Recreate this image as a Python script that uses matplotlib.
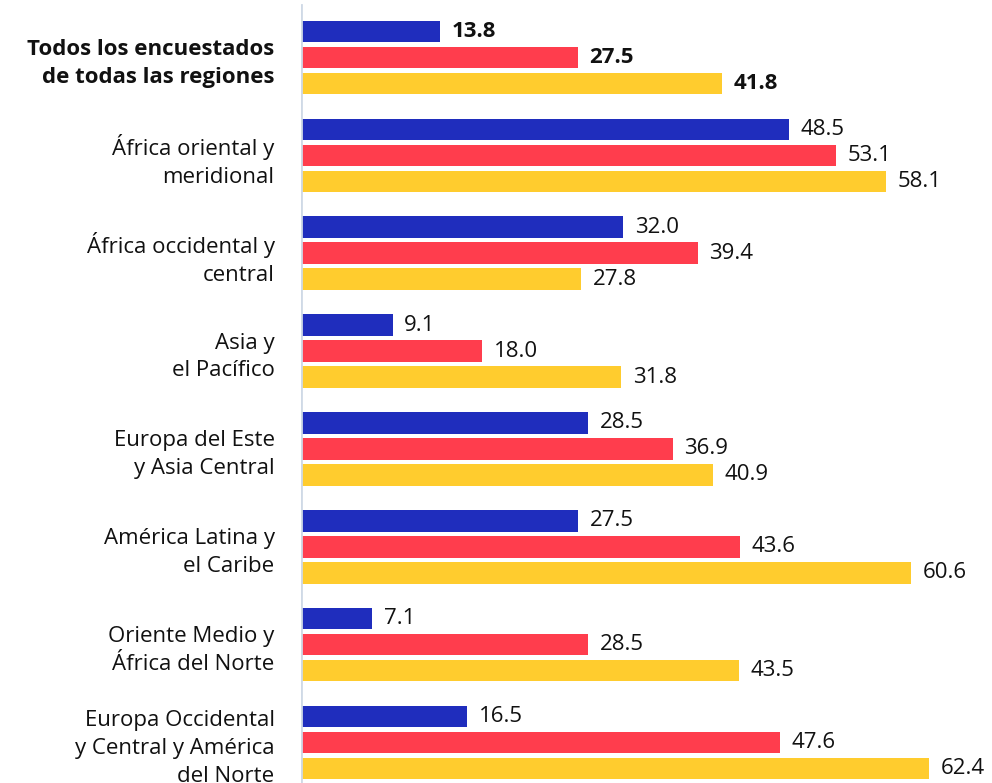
import numpy as np
import matplotlib
matplotlib.use('Agg')
import matplotlib.pyplot as plt

plt.rcParams['font.family'] = ['Open Sans', 'DejaVu Sans']

regions = [
    'Todos los encuestados\nde todas las regiones',
    'África oriental y\nmeridional',
    'África occidental y\ncentral',
    'Asia y\nel Pacífico',
    'Europa del Este\ny Asia Central',
    'América Latina y\nel Caribe',
    'Oriente Medio y\nÁfrica del Norte',
    'Europa Occidental\ny Central y América\ndel Norte',
]
serie_azul = [13.8, 48.5, 32.0, 9.1, 28.5, 27.5, 7.1, 16.5]
serie_roja = [27.5, 53.1, 39.4, 18.0, 36.9, 43.6, 28.5, 47.6]
serie_amarilla = [41.8, 58.1, 27.8, 31.8, 40.9, 60.6, 43.5, 62.4]

colors = ['#1f2dbd', '#ff3d4d', '#ffcc2e']
W, H = 992, 783
fig = plt.figure(figsize=(W / 100, H / 100), dpi=100)
ax = fig.add_axes([301 / W, 0, 1 - 301 / W, 1])

y = np.arange(len(regions))
offset = 0.2656
height = 0.22
series = [serie_azul, serie_roja, serie_amarilla]
for k, (vals, c) in enumerate(zip(series, colors)):
    pos = y + (k - 1) * offset
    ax.barh(pos, vals, height=height, color=c, linewidth=0)
    for i, (p, v) in enumerate(zip(pos, vals)):
        ax.text(v + 1.15, p, f'{v:.1f}', va='center', ha='left', fontsize=16,
                color='#111111', fontweight='bold' if i == 0 else 'normal')

ax.set_xlim(0, 691 / 10.07)
ax.set_ylim(7.414, -0.5876)
ax.set_yticks(y)
ax.set_yticklabels(regions, fontsize=16, color='#111111')
for lab in ax.get_yticklabels():
    lab.set_linespacing(1.42)
ax.get_yticklabels()[0].set_fontweight('bold')
ax.tick_params(axis='y', length=0, pad=19)
ax.set_xticks([])
for s in ['top', 'right', 'bottom', 'left']:
    ax.spines[s].set_visible(False)
ax.axvline(0, ymin=0, ymax=1 - 5 / H, color='#cfd9e6', linewidth=2)

fig.savefig('out.png', dpi=100)
